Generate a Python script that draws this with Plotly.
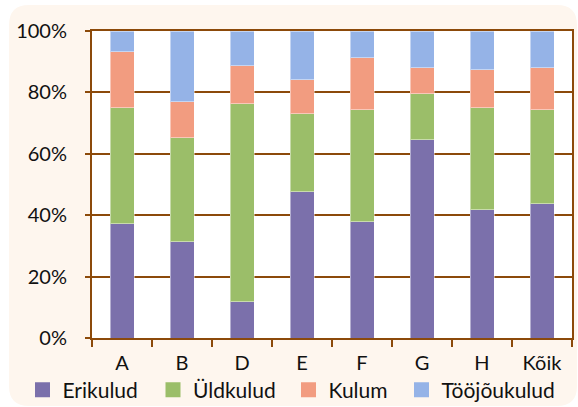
import plotly.graph_objects as go

categories = ["A", "B", "D", "E", "F", "G", "H", "Kõik"]
erikulud = [37.2, 31.4, 11.8, 47.7, 37.9, 64.6, 41.8, 43.7]
uldkulud = [37.8, 33.8, 64.5, 25.4, 36.5, 15.0, 33.2, 30.7]
kulum = [18.3, 11.8, 12.4, 11.0, 16.9, 8.4, 12.4, 13.6]
toojoukulud = [6.7, 23.0, 11.3, 15.9, 8.7, 12.0, 12.6, 12.0]
series_names = ["Erikulud", "Üldkulud", "Kulum", "Tööjõukulud"]
colors = ["#7B70AB", "#9BBE69", "#F29C80", "#95B3E7"]
tick_vals = [0, 20, 40, 60, 80, 100]
tick_text = ["0%", "20%", "40%", "60%", "80%", "100%"]

W, H = 578, 407
L, R, T, B = 92, 6, 31, 69
pw, ph = W - L - R, H - T - B
BROWN = "#8C4A0A"
FONT = "Lato"

def px2x(p):
    return (p - L) / pw

def py2y(p):
    return (H - B - p) / ph

fig = go.Figure()
for name, vals, col in zip(series_names, [erikulud, uldkulud, kulum, toojoukulud], colors):
    fig.add_trace(go.Bar(
        x=categories, y=vals, name=name, showlegend=False,
        marker=dict(color=col, line=dict(color="rgba(255,255,255,0.45)", width=1)),
        width=0.4,
    ))

# legend entries: one legend per series so each can be placed like the reference
legend_ids = ["legend", "legend2", "legend3", "legend4"]
legend_px = [22.5, 153, 288.5, 401.5]
for name, col, lid in zip(series_names, colors, legend_ids):
    fig.add_trace(go.Scatter(
        x=[None], y=[None], mode="markers", name=name, legend=lid,
        marker=dict(symbol="square", size=15, color=col),
        showlegend=True, hoverinfo="skip",
    ))

# rounded card with a hole for the plot area
x0, x1, y0, y1, r = 9, 577, 5, 406, 20
def pt(x, y):
    return f"{px2x(x):.5f},{py2y(y):.5f}"
outer = (f"M{pt(x0 + r, y0)} L{pt(x1 - r, y0)} Q{pt(x1, y0)} {pt(x1, y0 + r)} "
         f"L{pt(x1, y1 - r)} Q{pt(x1, y1)} {pt(x1 - r, y1)} "
         f"L{pt(x0 + r, y1)} Q{pt(x0, y1)} {pt(x0, y1 - r)} "
         f"L{pt(x0, y0 + r)} Q{pt(x0, y0)} {pt(x0 + r, y0)} Z")
inner = f"M{pt(L, T)} L{pt(L, H - B)} L{pt(W - R, H - B)} L{pt(W - R, T)} Z"

legend_common = dict(orientation="h", yanchor="middle", xanchor="left",
                     font=dict(family=FONT, size=21), bgcolor="rgba(0,0,0,0)",
                     itemclick=False, itemdoubleclick=False)
legend_layout = {}
for lid, lx in zip(legend_ids, legend_px):
    legend_layout[lid] = dict(legend_common, x=px2x(lx), y=py2y(390))

fig.update_layout(
    width=W, height=H,
    margin=dict(l=L, r=R, t=T, b=B, pad=0, autoexpand=False),
    barmode="stack",
    paper_bgcolor="white",
    plot_bgcolor="white",
    font=dict(family=FONT, size=20, color="#111111"),
    shapes=[dict(type="path", path=outer + " " + inner, xref="paper", yref="paper",
                 fillcolor="#FEF6EE", line=dict(width=0), layer="below", fillrule="evenodd")],
    xaxis=dict(
        type="category", showline=True, linecolor=BROWN, linewidth=2, mirror=True,
        ticks="outside", tickson="boundaries", ticklen=7, tickcolor=BROWN, tickwidth=2,
        showgrid=False, tickfont=dict(size=20), automargin=False, ticklabelstandoff=6,
        range=[-0.5, 7.5],
    ),
    yaxis=dict(
        range=[0, 100], tickvals=tick_vals, ticktext=tick_text,
        showline=True, linecolor=BROWN, linewidth=2, mirror=True,
        showgrid=True, gridcolor=BROWN, gridwidth=2,
        ticks="outside", ticklen=5, tickcolor=BROWN, tickwidth=2,
        tickfont=dict(size=20), zeroline=False, ticklabelstandoff=14, automargin=False,
    ),
    **legend_layout,
)

fig.write_html("out.html", config={"displayModeBar": False},
               post_script="document.body.style.margin='0';")
